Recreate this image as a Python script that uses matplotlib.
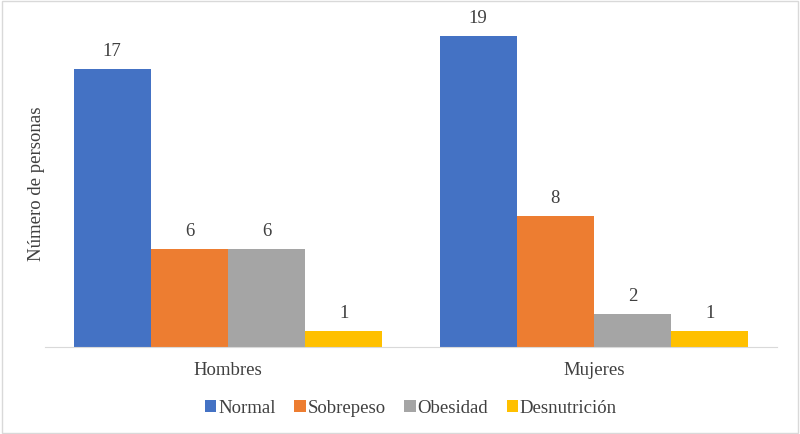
import numpy as np
import matplotlib
matplotlib.use("Agg")
import matplotlib.pyplot as plt
from matplotlib.patches import Rectangle

plt.rcParams['font.family'] = ['Liberation Serif', 'DejaVu Serif']

groups = ['Hombres', 'Mujeres']
series = ['Normal', 'Sobrepeso', 'Obesidad', 'Desnutrición']
values = {
    'Normal': [17, 19],
    'Sobrepeso': [6, 8],
    'Obesidad': [6, 2],
    'Desnutrición': [1, 1],
}
colors = ['#4472C4', '#ED7D31', '#A5A5A5', '#FFC000']
text_color = '#404040'
fs = 13.5

fig = plt.figure(figsize=(8, 4.34), dpi=100)
ax = fig.add_axes([0.05625, 0.2005, 0.915, 0.7535])

x = np.arange(len(groups))
width = 0.211
for i, name in enumerate(series):
    pos = x + (i - 1.5) * width
    bars = ax.bar(pos, values[name], width, color=colors[i], label=name)
    for b, v in zip(bars, values[name]):
        ax.text(b.get_x() + b.get_width() / 2, v + 0.55, str(v),
                ha='center', va='bottom', fontsize=fs, color=text_color)

ax.set_xlim(-0.5, 1.5)
ax.set_ylim(0, 20)
ax.set_xticks(x)
ax.set_xticklabels(groups, fontsize=fs, color=text_color)
ax.tick_params(axis='x', length=0, pad=11)
ax.set_yticks([])
for s in ['top', 'right', 'left']:
    ax.spines[s].set_visible(False)
ax.spines['bottom'].set_color('#D9D9D9')
ax.set_ylabel('Número de personas', fontsize=fs, color=text_color, labelpad=0)

ax.legend(loc='upper center', bbox_to_anchor=(0.5, -0.11), ncol=4, frameon=False,
          fontsize=fs, handlelength=0.6, handleheight=0.6, handletextpad=0.1,
          columnspacing=1.0, labelcolor=text_color)

fig.patches.append(Rectangle((0.002, 0.002), 0.996, 0.996, transform=fig.transFigure,
                             fill=False, edgecolor='#D9D9D9', linewidth=1))

fig.savefig('out.png', dpi=100)
